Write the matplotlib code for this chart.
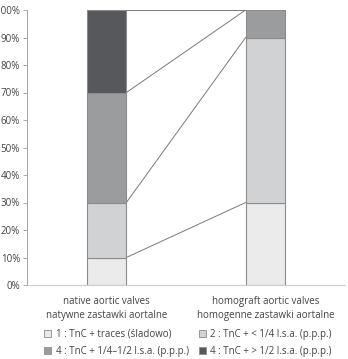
import matplotlib
matplotlib.use("Agg")
import matplotlib.pyplot as plt
from matplotlib.patches import Patch
import numpy as np

plt.rcParams['font.family'] = ['Open Sans', 'DejaVu Sans']

categories = ["native aortic valves\nnatywne zastawki aortalne",
              "homograft aortic valves\nhomogenne zastawki aortalne"]
series_labels = ["1 : TnC + traces (śladowo)",
                 "2 : TnC + < 1/4 l.s.a. (p.p.p.)",
                 "4 : TnC + 1/4–1/2 l.s.a. (p.p.p.)",
                 "4 : TnC + > 1/2 l.s.a. (p.p.p.)"]
native = [10, 20, 40, 30]
homograft = [30, 60, 10, 0]
colors = ["#ebebeb", "#d1d2d4", "#9b9c9e", "#57585c"]
yticks = [0, 10, 20, 30, 40, 50, 60, 70, 80, 90, 100]

fig = plt.figure(figsize=(3.48, 3.59), dpi=100)
ax = fig.add_axes([27/348, 1 - 285/359, 318/348, 275/359])

x = np.arange(len(categories))
data = np.array([native, homograft])
bottoms = np.zeros(len(categories))
width = 0.25
for i in range(data.shape[1]):
    vals = data[:, i]
    ax.bar(x, vals, width, bottom=bottoms, color=colors[i],
           edgecolor="#8c8c8c", linewidth=0.8, zorder=2)
    bottoms = bottoms + vals

# series lines
cum = np.cumsum(data, axis=1)
for i in range(data.shape[1]):
    ax.plot([x[0] + width/2, x[1] - width/2], [cum[0, i], cum[1, i]],
            color="#7a7a7a", linewidth=0.7, zorder=1)

ax.set_xlim(-0.5, 1.5)
ax.set_ylim(0, 100)
ax.set_yticks(yticks)
ax.set_yticklabels([f"{v}%" for v in yticks], fontsize=7, color="#444444")
ax.set_xticks(x)
ax.set_xticklabels(categories, fontsize=7, color="#444444", linespacing=1.4)
ax.tick_params(axis='x', length=0, pad=8)
ax.tick_params(axis='y', length=3, width=0.7, color="#aaaaaa", pad=2)
for s in ["top", "right"]:
    ax.spines[s].set_visible(False)
ax.spines["left"].set_color("#aaaaaa")
ax.spines["left"].set_linewidth(0.8)
ax.spines["bottom"].set_color("#cccccc")
ax.spines["bottom"].set_linewidth(0.8)

handles = [Patch(facecolor=colors[i], edgecolor="#8c8c8c", linewidth=0.6, label=series_labels[i])
           for i in range(4)]
order = [0, 2, 1, 3]
leg = fig.legend([handles[i] for i in order], [series_labels[i] for i in order],
                 ncol=2, loc="upper left", bbox_to_anchor=(44/348, 1 - 329/359),
                 frameon=False, fontsize=7, handlelength=0.75, handleheight=0.75,
                 handletextpad=0.45, columnspacing=1.0, labelspacing=0.6,
                 borderaxespad=0, borderpad=0.0)
for t in leg.get_texts():
    t.set_color("#444444")

fig.savefig("out.png", dpi=100)
